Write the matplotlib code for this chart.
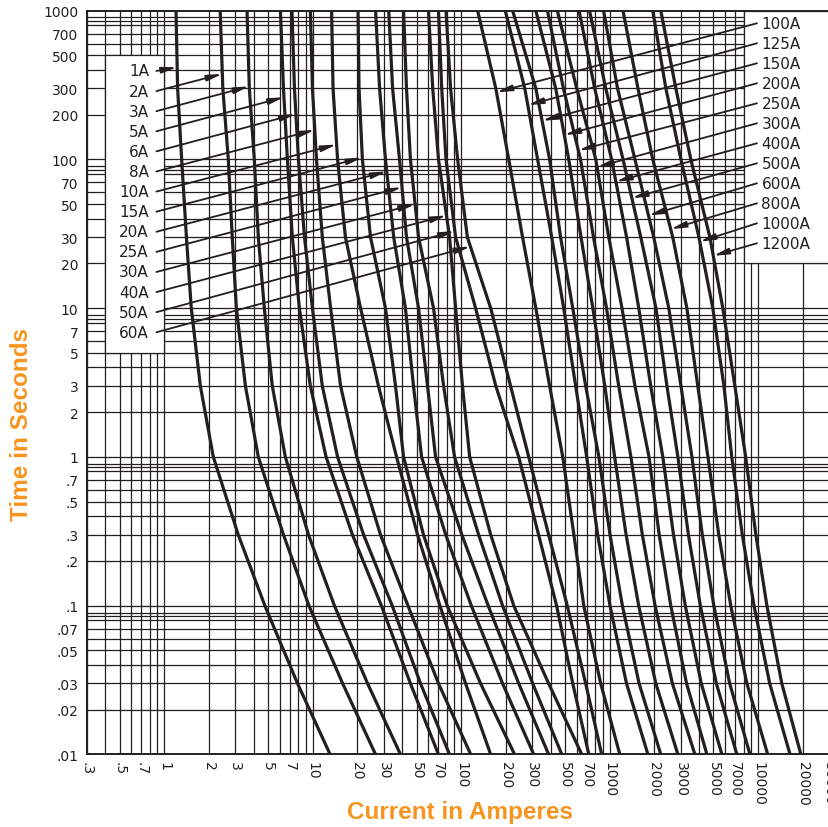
import numpy as np
import matplotlib
matplotlib.use("Agg")
import matplotlib.pyplot as plt
from matplotlib.patches import Rectangle
from matplotlib.ticker import NullLocator

times = [1000, 300, 100, 30, 10, 3, 1, 0.3, 0.1, 0.03, 0.01]

# current (A) of each fuse curve at those times
amps_1A = [1.2, 1.23, 1.31, 1.41, 1.52, 1.75, 2.14, 3.15, 4.76, 7.9, 13.1]
amps_2A = [2.38, 2.48, 2.7, 2.87, 3.06, 3.52, 4.3, 6.35, 9.43, 15.9, 26.5]
amps_3A = [3.61, 3.74, 4.04, 4.3, 4.72, 5.34, 6.54, 9.36, 14.0, 23.4, 39.0]
amps_5A = [6.06, 6.35, 6.75, 7.29, 8.13, 9.64, 12.3, 18.5, 29.0, 45.5, 70.3]
amps_6A = [7.25, 7.53, 8.01, 8.8, 9.95, 11.6, 14.7, 22.0, 34.3, 53.2, 83.5]
amps_8A = [9.64, 9.95, 10.6, 11.6, 13.2, 15.4, 19.8, 28.6, 43.8, 70.3, 116]
amps_10A = [13.4, 13.7, 14.7, 16.6, 21.0, 27.7, 36.7, 50.8, 71.9, 107, 158]
amps_15A = [20.2, 20.5, 21.6, 24.5, 30.9, 36.1, 40.9, 55.7, 80.5, 135, 229]
amps_20A = [26.5, 28.2, 30.9, 35.1, 42.1, 47.7, 54.1, 78.6, 117, 190, 308]
amps_25A = [32.5, 34.5, 38.4, 42.8, 51.6, 59.3, 67.2, 101, 152, 244, 388]
amps_30A = [40.9, 42.8, 45.5, 51.6, 65.1, 76.1, 90.2, 131, 190, 303, 476]
amps_40A = [60.2, 64.3, 70.3, 83.5, 91.7, 102, 114, 158, 226, 388, 649]
amps_50A = [70.3, 73.9, 79.0, 91.7, 125, 171, 244, 332, 439, 564, 724]
amps_60A = [79.0, 84.8, 94.6, 110, 158, 215, 285, 388, 518, 689, 884]

amps_100A = [129, 171, 209, 259, 318, 394, 483, 574, 669, 870, 1170]
amps_125A = [198, 268, 327, 407, 490, 590, 700, 830, 1005, 1298, 1810]
amps_150A = [222, 318, 394, 467, 564, 689, 846, 1005, 1218, 1578, 2210]
amps_200A = [318, 433, 530, 641, 770, 927, 1080, 1290, 1568, 2045, 2880]
amps_250A = [381, 488, 636, 778, 952, 1150, 1390, 1659, 2023, 2645, 3750]
amps_300A = [444, 600, 806, 986, 1210, 1480, 1840, 2155, 2580, 3295, 4520]
amps_400A = [622, 793, 1030, 1300, 1570, 1890, 2280, 2690, 3230, 4140, 5700]
amps_500A = [732, 941, 1230, 1620, 2050, 2430, 2880, 3390, 4080, 5230, 7190]
amps_600A = [910, 1130, 1480, 1980, 2500, 3020, 3580, 4205, 5030, 6430, 8810]
amps_800A = [1230, 1550, 1950, 2660, 3310, 3920, 4590, 5430, 6540, 8400, 11600]
amps_1000A = [1950, 2390, 3020, 3990, 4950, 5880, 6640, 7820, 9380, 11960, 16400]
amps_1200A = [2210, 2790, 3520, 4730, 5780, 6970, 8240, 9650, 11450, 14430, 19400]

labels_left = ['1A', '2A', '3A', '5A', '6A', '8A', '10A', '15A', '20A', '25A',
               '30A', '40A', '50A', '60A']
curves_left = [amps_1A, amps_2A, amps_3A, amps_5A, amps_6A, amps_8A, amps_10A,
               amps_15A, amps_20A, amps_25A, amps_30A, amps_40A, amps_50A, amps_60A]
labels_right = ['100A', '125A', '150A', '200A', '250A', '300A', '400A', '500A',
                '600A', '800A', '1000A', '1200A']
curves_right = [amps_100A, amps_125A, amps_150A, amps_200A, amps_250A, amps_300A,
                amps_400A, amps_500A, amps_600A, amps_800A, amps_1000A, amps_1200A]

# time (s) where each label's arrow meets its curve
tip_t_left = [417, 376, 310, 262, 202, 158, 126, 103, 83, 65, 50, 42, 33, 26]
tip_t_right = [283, 232, 182, 146, 115, 89, 71, 55, 42, 34, 28, 22.5]

x_ticks = [.3, .5, .7, 1, 2, 3, 5, 7, 10, 20, 30, 50, 70, 100, 200, 300, 500, 700,
           1000, 2000, 3000, 5000, 7000, 10000, 20000, 30000]
x_ticklabels = ['.3', '.5', '.7', '1', '2', '3', '5', '7', '10', '20', '30', '50', '70',
                '100', '200', '300', '500', '700', '1000', '2000', '3000', '5000',
                '7000', '10000', '20000', '30000']
y_ticks = [1000, 700, 500, 300, 200, 100, 70, 50, 30, 20, 10, 7, 5, 3, 2, 1,
           .7, .5, .3, .2, .1, .07, .05, .03, .02, .01]
y_ticklabels = ['1000', '700', '500', '300', '200', '100', '70', '50', '30', '20',
                '10', '7', '5', '3', '2', '1', '.7', '.5', '.3', '.2', '.1', '.07',
                '.05', '.03', '.02', '.01']

ink = '#231f20'
orange = '#f7941d'

fig = plt.figure(figsize=(8.29, 8.28), dpi=100)
ax = fig.add_axes([0.1045, 0.0876, 0.8955, 0.8983])
ax.set_xscale('log')
ax.set_yscale('log')
ax.set_xlim(0.3, 30000)
ax.set_ylim(0.01, 1000)

# log paper grid
for dec in [0.1, 1, 10, 100, 1000, 10000]:
    for m in range(1, 10):
        v = m * dec
        if 0.3 <= v <= 30000:
            ax.axvline(v, color=ink, lw=0.9, zorder=1)
for dec in [0.01, 0.1, 1, 10, 100]:
    for m in [1, 2, 3, 4, 5, 6, 7, 8, 8.5, 9]:
        ax.axhline(m * dec, color=ink, lw=0.9, zorder=1)

# blank boxes behind the labels
ax.add_patch(Rectangle((0.4, 5), 0.6, 495, facecolor='white', edgecolor=ink,
                       lw=0.9, zorder=2))
ax.add_patch(Rectangle((8000, 20), 22000, 980, facecolor='white', edgecolor=ink,
                       lw=0.9, zorder=2))

for amps in curves_left + curves_right:
    ax.plot(amps, times, color=ink, lw=2.3, zorder=3, solid_capstyle='butt',
            solid_joinstyle='round')

log_t = np.log10(times[::-1])
arrow_kw = dict(arrowstyle='-|>,head_length=0.9,head_width=0.18', color=ink,
                lw=1.3, shrinkA=0, shrinkB=0, mutation_scale=10)

for i, (lab, amps, tt) in enumerate(zip(labels_left, curves_left, tip_t_left)):
    fy = (755.5 - (72 + 20.1 * i)) / 743.8
    tip = 10 ** np.interp(np.log10(tt), log_t, np.log10(amps[::-1]))
    ax.text(0.084, fy, lab, transform=ax.transAxes, ha='right', va='center',
            fontsize=11, color=ink, zorder=5)
    ax.annotate('', xy=(tip, tt), xycoords='data', xytext=(0.094, fy),
                textcoords='axes fraction', arrowprops=arrow_kw, zorder=4)

for i, (lab, amps, tt) in enumerate(zip(labels_right, curves_right, tip_t_right)):
    fy = (755.5 - (24.3 + 20 * i)) / 743.8
    tip = 10 ** np.interp(np.log10(tt), log_t, np.log10(amps[::-1]))
    ax.text(0.909, fy, lab, transform=ax.transAxes, ha='left', va='center',
            fontsize=11, color=ink, zorder=5)
    ax.annotate('', xy=(tip, tt), xycoords='data', xytext=(0.903, fy),
                textcoords='axes fraction', arrowprops=arrow_kw, zorder=4)

ax.set_xticks(x_ticks)
ax.set_xticklabels(x_ticklabels, rotation=270)
ax.set_yticks(y_ticks)
ax.set_yticklabels(y_ticklabels)
ax.xaxis.set_minor_locator(NullLocator())
ax.yaxis.set_minor_locator(NullLocator())
ax.tick_params(axis='both', length=0, labelsize=10, colors=ink)
ax.tick_params(axis='y', pad=6)
ax.tick_params(axis='x', pad=5)
for s in ax.spines.values():
    s.set_color(ink)
    s.set_linewidth(1.4)

title_font = ['Liberation Sans', 'DejaVu Sans']
fig.text(0.0265, 0.487, 'Time in Seconds', rotation=90, color=orange, fontsize=17.5,
         fontweight='bold', family=title_font, ha='center', va='center')
fig.text(0.5545, 0.019, 'Current in Amperes', color=orange, fontsize=17.5,
         fontweight='bold', family=title_font, ha='center', va='center')

fig.savefig('out.png', dpi=100)
